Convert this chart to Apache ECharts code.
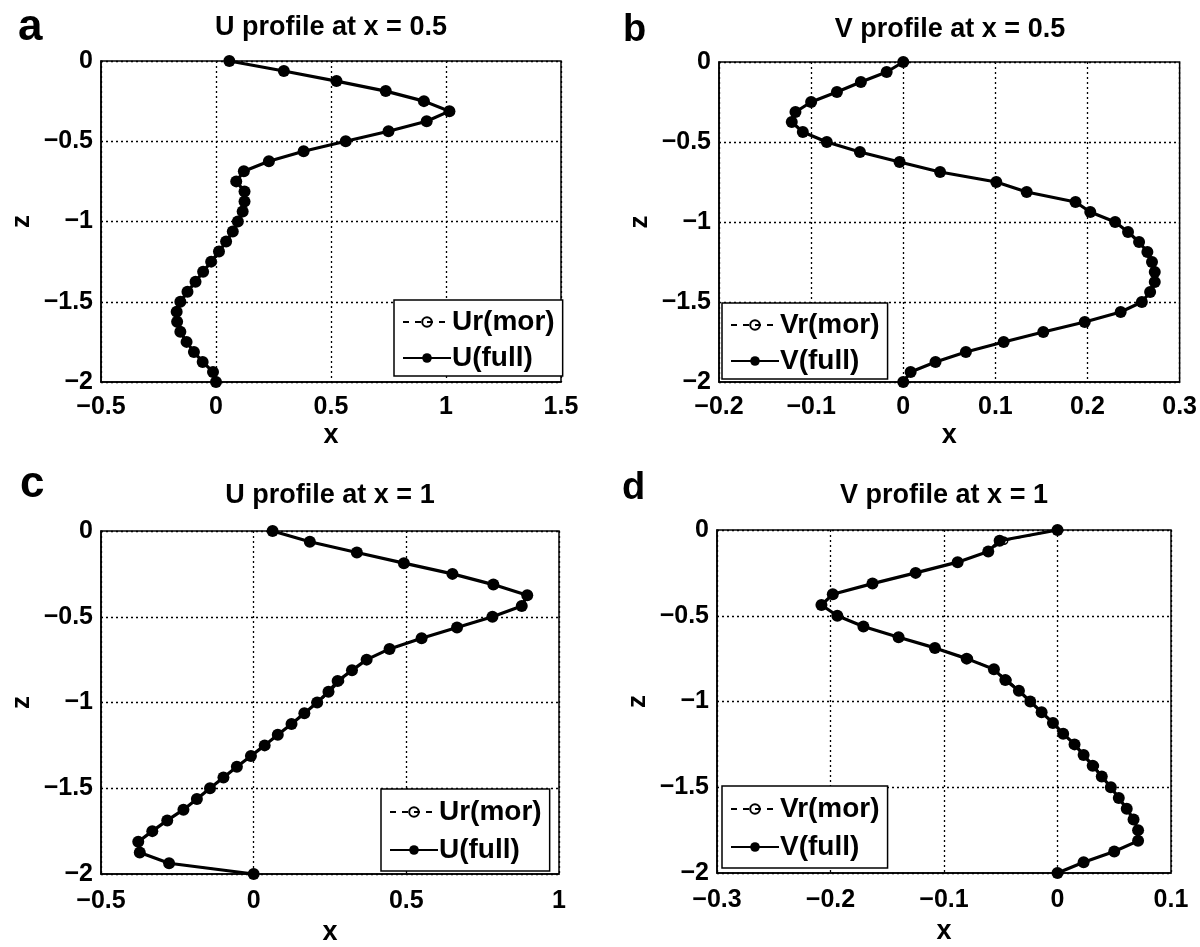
<!DOCTYPE html>
<html>
<head>
<meta charset="utf-8">
<script src="https://cdn.jsdelivr.net/npm/echarts@6/dist/echarts.min.js"></script>
<style>html,body{margin:0;padding:0;background:#fff;}#c{width:1200px;height:947px;}</style>
</head>
<body>
<div id="c"></div>
<script>
// depth levels (z)
const zLevels = [0,-0.0625,-0.125,-0.1875,-0.25,-0.3125,-0.375,-0.4375,-0.5,-0.5625,-0.625,-0.6875,-0.75,-0.8125,-0.875,-0.9375,-1,-1.0625,-1.125,-1.1875,-1.25,-1.3125,-1.375,-1.4375,-1.5,-1.5625,-1.625,-1.6875,-1.75,-1.8125,-1.875,-1.9375,-2];

// panel a: U profile at x = 0.5
const uFull05 = [0.058,0.295,0.524,0.738,0.904,1.015,0.916,0.750,0.564,0.381,0.230,0.121,0.088,0.124,0.124,0.116,0.095,0.073,0.044,0.013,-0.021,-0.056,-0.089,-0.124,-0.155,-0.171,-0.169,-0.155,-0.128,-0.096,-0.058,-0.013,0.0];
const uMor05  = [0.058,0.295,0.524,0.738,0.904,1.015,0.916,0.750,0.564,0.381,0.230,0.121,0.088,0.124,0.124,0.116,0.095,0.073,0.044,0.013,-0.021,-0.056,-0.089,-0.124,-0.155,-0.171,-0.169,-0.155,-0.128,-0.096,-0.058,-0.013,0.0];

// panel b: V profile at x = 0.5
const vFull05 = [0,-0.018,-0.046,-0.072,-0.100,-0.117,-0.121,-0.109,-0.083,-0.047,-0.004,0.040,0.101,0.134,0.187,0.203,0.230,0.244,0.256,0.265,0.270,0.273,0.273,0.268,0.259,0.236,0.197,0.152,0.109,0.068,0.035,0.008,0];
const vMor05  = [0,-0.018,-0.046,-0.072,-0.100,-0.117,-0.121,-0.109,-0.083,-0.047,-0.004,0.040,0.101,0.134,0.187,0.203,0.230,0.244,0.256,0.265,0.270,0.273,0.273,0.268,0.259,0.236,0.197,0.152,0.109,0.068,0.035,0.008,0];

// panel c: U profile at x = 1
const uFull1 = [0.062,0.184,0.338,0.492,0.651,0.785,0.896,0.878,0.782,0.666,0.550,0.445,0.370,0.322,0.275,0.245,0.208,0.166,0.124,0.079,0.036,-0.009,-0.055,-0.099,-0.143,-0.186,-0.230,-0.283,-0.332,-0.378,-0.373,-0.277,0];
const uMor1  = [0.062,0.184,0.338,0.492,0.651,0.785,0.896,0.878,0.782,0.666,0.550,0.445,0.370,0.324,0.283,0.250,0.210,0.166,0.124,0.079,0.036,-0.009,-0.055,-0.099,-0.143,-0.186,-0.230,-0.283,-0.332,-0.378,-0.373,-0.277,0];

// panel d: V profile at x = 1
const vFull1 = [0,-0.051,-0.061,-0.088,-0.125,-0.163,-0.198,-0.208,-0.194,-0.171,-0.140,-0.108,-0.080,-0.056,-0.046,-0.034,-0.024,-0.014,-0.004,0.005,0.015,0.023,0.031,0.039,0.047,0.054,0.061,0.067,0.071,0.071,0.050,0.023,0];
const vMor1  = [0,-0.047,-0.061,-0.088,-0.125,-0.163,-0.198,-0.208,-0.194,-0.171,-0.140,-0.108,-0.078,-0.056,-0.044,-0.033,-0.024,-0.014,-0.004,0.005,0.016,0.023,0.033,0.039,0.047,0.054,0.061,0.067,0.071,0.071,0.050,0.023,0];

// axes
const xTicks = [
  {min:-0.5, max:1.5, interval:0.5},
  {min:-0.2, max:0.3, interval:0.1},
  {min:-0.5, max:1.0, interval:0.5},
  {min:-0.3, max:0.1, interval:0.1}
];
const zTicks = {min:-2, max:0, interval:0.5};

const titles = ['U profile at x = 0.5','V profile at x = 0.5','U profile at x = 1','V profile at x = 1'];
const letters = ['a','b','c','d'];
const fullNames = ['U(full)','V(full)','U(full)','V(full)'];
const morNames = ['Ur(mor)','Vr(mor)','Ur(mor)','Vr(mor)'];
const fullData = [uFull05, vFull05, uFull1, vFull1];
const morData = [uMor05, vMor05, uMor1, vMor1];

// layout
const grids = [
  {left:101, top:61, width:460, height:321},
  {left:719, top:62, width:462, height:320},
  {left:101, top:531, width:458, height:344},
  {left:717, top:530, width:454, height:343}
];
const legendPos = [
  {left:394, top:300},
  {left:722, top:303},
  {left:381, top:789},
  {left:722, top:786}
];
const letterPos = [[18,28,44],[623,31,38],[20,485,44],[622,489,38]];
const titleY = [28,30,496,496];
const labelMargin = [13,13,15,15];
const nameGapX = [40,40,45,45];

const FONT = '"Liberation Sans", Arial, Helvetica, sans-serif';
const fmt = v => String(+(+v).toFixed(2)).replace('-', '\u2212');

const option = {
  backgroundColor:'#fff',
  animation:false,
  grid: grids.map(g => Object.assign({show:true, borderColor:'#000', borderWidth:1.5, backgroundColor:'transparent'}, g)),
  xAxis: xTicks.map((t,i) => ({
    type:'value', gridIndex:i, min:t.min, max:t.max, interval:t.interval,
    name:'x', nameLocation:'middle', nameGap:nameGapX[i],
    nameTextStyle:{fontFamily:FONT, fontWeight:'bold', fontSize:27, color:'#000'},
    axisLine:{show:true, onZero:false, lineStyle:{color:'#000', width:1.5}},
    axisTick:{show:false},
    axisLabel:{fontFamily:FONT, fontWeight:'bold', fontSize:25, color:'#000', margin:labelMargin[i], formatter:fmt, showMinLabel:true, showMaxLabel:true},
    splitLine:{show:true, lineStyle:{color:'#000', width:1.3, type:[2,3]}}
  })),
  yAxis: xTicks.map((t,i) => ({
    type:'value', gridIndex:i, min:zTicks.min, max:zTicks.max, interval:zTicks.interval,
    name:'z', nameLocation:'middle', nameGap:66,
    nameTextStyle:{fontFamily:FONT, fontWeight:'bold', fontSize:26, color:'#000'},
    axisLine:{show:true, onZero:false, lineStyle:{color:'#000', width:1.5}},
    axisTick:{show:false},
    axisLabel:{fontFamily:FONT, fontWeight:'bold', fontSize:25, color:'#000', margin:8, formatter:fmt, showMinLabel:true, showMaxLabel:true},
    splitLine:{show:true, lineStyle:{color:'#000', width:1.3, type:[2,3]}}
  })),
  legend: legendPos.map((p,i) => ({
    left:p.left, top:p.top, orient:'vertical',
    data:[morNames[i], fullNames[i]],
    selectedMode:false,
    backgroundColor:'#fff', borderColor:'#000', borderWidth:1.5, borderRadius:0,
    padding: i < 2 ? [6,8,2,8] : [7,8,5,8], itemGap: i < 2 ? 4 : 6, itemWidth:48, itemHeight:12,
    textStyle:{fontFamily:FONT, fontWeight:'bold', fontSize:28, color:'#000', lineHeight:32, padding:[0,0,0,-4]}
  })),
  series: [],
  graphic: []
};

for (let i = 0; i < 4; i++) {
  option.series.push({
    type:'line', name:fullNames[i], xAxisIndex:i, yAxisIndex:i,
    data: zLevels.map((z,k) => [fullData[i][k], z]),
    symbol:'circle', symbolSize:12, showSymbol:true,
    lineStyle:{color:'#000', width:3.2},
    itemStyle:{color:'#000'},
    z:2
  });
  option.series.push({
    type:'line', name:morNames[i], xAxisIndex:i, yAxisIndex:i,
    data: zLevels.map((z,k) => [morData[i][k], z]),
    symbol:'circle', symbolSize:7, showSymbol:true,
    lineStyle:{color:'#000', width:1.5, type:[6,6]},
    itemStyle:{color:'rgba(0,0,0,0)', borderColor:'#000', borderWidth:1.5},
    z:3
  });
  const g = grids[i];
  option.graphic.push({
    type:'text', x:g.left + g.width/2, y:titleY[i],
    style:{text:titles[i], fontFamily:FONT, fontWeight:'bold', fontSize:27, fill:'#000', align:'center', verticalAlign:'middle'}
  });
  option.graphic.push({
    type:'text', x:letterPos[i][0], y:letterPos[i][1],
    style:{text:letters[i], fontFamily:FONT, fontWeight:'bold', fontSize:letterPos[i][2], fill:'#000', align:'left', verticalAlign:'middle'}
  });
}

const chart = echarts.init(document.getElementById('c'), null, {renderer:'canvas'});
chart.setOption(option);
</script>
</body>
</html>
